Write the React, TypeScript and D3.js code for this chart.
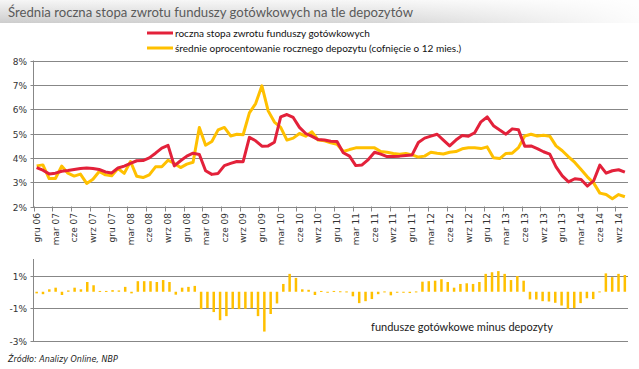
import * as d3 from 'd3';
import { useEffect, useRef } from 'react';

// etykiety osi X (co 3 miesiące, od gru 06)
const tickLabels = [
    'gru 06', 'mar 07', 'cze 07', 'wrz 07', 'gru 07', 'mar 08', 'cze 08', 'wrz 08',
    'gru 08', 'mar 09', 'cze 09', 'wrz 09', 'gru 09', 'mar 10', 'cze 10', 'wrz 10',
    'gru 10', 'mar 11', 'cze 11', 'wrz 11', 'gru 11', 'mar 12', 'cze 12', 'wrz 12',
    'gru 12', 'mar 13', 'cze 13', 'wrz 13', 'gru 13', 'mar 14', 'cze 14', 'wrz 14',
];

// roczna stopa zwrotu funduszy gotówkowych (%), miesięcznie gru 06 - paź 14
const fundReturn = [
    3.60, 3.49, 3.34, 3.37, 3.45, 3.48, 3.52, 3.56, 3.58, 3.56, 3.52, 3.42,
    3.38, 3.58, 3.66, 3.77, 3.88, 3.89, 4.00, 4.19, 4.40, 4.51, 3.67, 3.88,
    4.07, 4.19, 4.14, 3.47, 3.32, 3.36, 3.68, 3.77, 3.85, 3.84, 4.84, 4.70,
    4.48, 4.49, 4.64, 5.68, 5.78, 5.66, 5.25, 5.00, 4.88, 4.75, 4.73, 4.68,
    4.67, 4.21, 4.07, 3.68, 3.71, 3.93, 4.23, 4.15, 4.05, 4.05, 4.07, 4.10,
    4.12, 4.63, 4.81, 4.89, 4.97, 4.73, 4.49, 4.73, 4.92, 4.89, 5.03, 5.48,
    5.68, 5.32, 5.14, 4.97, 5.19, 5.15, 4.48, 4.49, 4.38, 4.25, 4.15, 3.63,
    3.26, 3.01, 3.14, 3.11, 2.84, 3.05, 3.70, 3.37, 3.47, 3.51, 3.41,
];

// średnie oprocentowanie rocznego depozytu (cofnięcie o 12 mies.)
const depositRate = [
    3.67, 3.71, 3.15, 3.15, 3.66, 3.37, 3.25, 3.33, 2.95, 3.12, 3.44, 3.30,
    3.26, 3.56, 3.36, 3.85, 3.24, 3.19, 3.30, 3.63, 3.63, 3.90, 3.77, 3.60,
    3.74, 3.82, 5.25, 4.52, 4.67, 5.15, 5.25, 4.90, 4.97, 4.95, 5.85, 6.23,
    6.96, 5.93, 5.47, 5.25, 4.73, 4.81, 5.00, 4.89, 5.07, 4.73, 4.70, 4.62,
    4.56, 4.26, 4.34, 4.41, 4.41, 4.41, 4.41, 4.26, 4.23, 4.18, 4.15, 4.18,
    4.12, 4.03, 4.07, 4.23, 4.19, 4.16, 4.23, 4.26, 4.37, 4.41, 4.41, 4.38,
    4.45, 4.00, 3.97, 4.18, 4.19, 4.42, 4.90, 4.97, 4.90, 4.93, 4.89, 4.49,
    4.29, 4.04, 3.81, 3.52, 3.22, 2.97, 2.55, 2.49, 2.32, 2.49, 2.40,
];

// fundusze gotówkowe minus depozyty (p.p.)
const spread = [
    -0.10, -0.15, 0.15, 0.25, -0.20, 0.08, 0.25, 0.15, 0.60, 0.40, 0.05, 0.05,
    0.10, 0.08, 0.30, -0.10, 0.65, 0.65, 0.65, 0.60, 0.72, 0.60, -0.18, 0.25,
    0.30, 0.36, -1.07, -1.00, -1.25, -1.75, -1.50, -1.05, -1.07, -1.05, -1.00, -1.50,
    -2.45, -1.37, -0.72, 0.48, 1.10, 0.85, 0.15, 0.12, -0.20, 0.05, -0.04, 0.05,
    0.03, 0.02, -0.28, -0.70, -0.58, -0.45, -0.15, 0.02, -0.22, -0.06, -0.03, -0.08,
    0.02, 0.62, 0.65, 0.68, 0.77, 0.60, 0.25, 0.48, 0.52, 0.48, 0.60, 1.10,
    1.20, 1.27, 1.10, 0.72, 0.97, 0.68, -0.47, -0.48, -0.58, -0.60, -0.68, -0.85,
    -1.05, -1.00, -0.70, -0.40, -0.45, 0.02, 1.13, 0.90, 1.10, 1.03,
];

const topTicks = [2, 3, 4, 5, 6, 7, 8];
const bottomTicks = [1, -1, -3];

export default function App() {
    const ref = useRef<SVGSVGElement | null>(null);

    useEffect(() => {
        const svg = d3.select(ref.current);
        svg.selectAll('*').remove();

        const width = 639;
        const left = 33.5;
        const right = 628;
        const gridColor = '#878787';
        const red = '#e3213a';
        const yellow = '#ffc000';
        const calibri = 'Lato, "Open Sans", sans-serif';
        const tahoma = '"DejaVu Sans", Verdana, sans-serif';

        // nagłówek z gradientem
        const defs = svg.append('defs');
        const gv = defs.append('linearGradient').attr('id', 'hdrV').attr('x1', 0).attr('y1', 0).attr('x2', 0).attr('y2', 1);
        gv.append('stop').attr('offset', '0%').attr('stop-color', '#f6f6f6');
        gv.append('stop').attr('offset', '100%').attr('stop-color', '#cdcdcd');
        const gh = defs.append('linearGradient').attr('id', 'hdrH').attr('x1', 0).attr('y1', 0).attr('x2', 1).attr('y2', 0);
        gh.append('stop').attr('offset', '0%').attr('stop-color', '#fff').attr('stop-opacity', 0);
        gh.append('stop').attr('offset', '60%').attr('stop-color', '#fff').attr('stop-opacity', 0.2);
        gh.append('stop').attr('offset', '100%').attr('stop-color', '#fff').attr('stop-opacity', 0.95);

        svg.append('rect').attr('width', width).attr('height', 369).attr('fill', '#fff');
        svg.append('rect').attr('width', width).attr('height', 23).attr('fill', 'url(#hdrV)');
        svg.append('rect').attr('width', width).attr('height', 23).attr('fill', 'url(#hdrH)');
        svg.append('text')
            .attr('x', 8).attr('y', 17)
            .attr('font-family', calibri).attr('font-size', 14)
            .attr('textLength', 405)
            .attr('lengthAdjust', 'spacingAndGlyphs')
            .attr('fill', '#5a5a5a')
            .text('Średnia roczna stopa zwrotu funduszy gotówkowych na tle depozytów');

        // legenda
        const legend = [
            { label: 'roczna stopa zwrotu funduszy gotówkowych', color: red, y: 33 },
            { label: 'średnie oprocentowanie rocznego depozytu (cofnięcie o 12 mies.)', color: yellow, y: 48 },
        ];
        legend.forEach(l => {
            svg.append('line')
                .attr('x1', 147).attr('x2', 173).attr('y1', l.y).attr('y2', l.y)
                .attr('stroke', l.color).attr('stroke-width', 3);
            svg.append('text')
                .attr('x', 175).attr('y', l.y).attr('dy', '0.35em')
                .attr('font-family', calibri).attr('font-size', 10)
                .attr('fill', '#111')
                .text(l.label);
        });

        // --- wykres górny ---
        const x = d3.scaleBand<number>()
            .domain(d3.range(fundReturn.length))
            .range([left, right]);
        const bw = x.bandwidth();
        const y = d3.scaleLinear().domain([2, 8]).range([206.5, 60.5]);

        const gTop = svg.append('g');
        topTicks.forEach(t => {
            const yy = Math.round(y(t)) + 0.5;
            gTop.append('line')
                .attr('x1', left - 3).attr('x2', right).attr('y1', yy).attr('y2', yy)
                .attr('stroke', gridColor).attr('stroke-width', 1);
            gTop.append('text')
                .attr('x', 27).attr('y', yy).attr('dy', '0.35em')
                .attr('text-anchor', 'end')
                .attr('font-family', tahoma).attr('font-size', 9)
                .attr('fill', '#333')
                .text(`${t}%`);
        });
        gTop.append('line')
            .attr('x1', left).attr('x2', left).attr('y1', y(8)).attr('y2', y(2) + 0.5)
            .attr('stroke', gridColor);

        tickLabels.forEach((lab, k) => {
            const i = k * 3;
            const bx = Math.round(x(i)!) + 0.5;
            gTop.append('line')
                .attr('x1', bx).attr('x2', bx).attr('y1', y(2)).attr('y2', y(2) + 5)
                .attr('stroke', gridColor);
            const cx = x(i)! + bw / 2;
            gTop.append('text')
                .attr('transform', `translate(${cx},${213}) rotate(-90)`)
                .attr('dy', '0.35em')
                .attr('text-anchor', 'end')
                .attr('font-family', tahoma).attr('font-size', 9)
                .attr('fill', '#333')
                .text(lab);
        });

        const line = d3.line<number>()
            .x((_, i) => x(i)! + bw / 2)
            .y(d => y(d));

        gTop.append('path')
            .datum(depositRate)
            .attr('fill', 'none')
            .attr('stroke', yellow)
            .attr('stroke-width', 3)
            .attr('stroke-linejoin', 'round')
            .attr('d', line);

        gTop.append('path')
            .datum(fundReturn)
            .attr('fill', 'none')
            .attr('stroke', red)
            .attr('stroke-width', 3)
            .attr('stroke-linejoin', 'round')
            .attr('d', line);

        // --- wykres dolny ---
        const xb = d3.scaleBand<number>()
            .domain(d3.range(spread.length))
            .range([left, right]);
        const yb = d3.scaleLinear().domain([-3, 1]).range([340.5, 275.5]);
        const gBot = svg.append('g');

        bottomTicks.forEach(t => {
            const yy = Math.round(yb(t)) + 0.5;
            gBot.append('line')
                .attr('x1', left - 3).attr('x2', right).attr('y1', yy).attr('y2', yy)
                .attr('stroke', gridColor);
            gBot.append('text')
                .attr('x', 27).attr('y', yy).attr('dy', '0.35em')
                .attr('text-anchor', 'end')
                .attr('font-family', tahoma).attr('font-size', 9)
                .attr('fill', '#333')
                .text(`${t}%`);
        });
        gBot.append('line')
            .attr('x1', left).attr('x2', left).attr('y1', 259).attr('y2', yb(-3) + 0.5)
            .attr('stroke', gridColor);

        gBot.selectAll('rect.bar')
            .data(spread)
            .join('rect')
            .attr('class', 'bar')
            .attr('x', (_, i) => xb(i)! + xb.bandwidth() / 2 - 1.25)
            .attr('width', 2.5)
            .attr('y', d => yb(Math.max(0, d)))
            .attr('height', d => Math.max(1, Math.abs(yb(d) - yb(0))))
            .attr('fill', yellow);

        gBot.append('text')
            .attr('x', 462).attr('y', 327).attr('dy', '0.35em')
            .attr('text-anchor', 'middle')
            .attr('font-family', calibri).attr('font-size', 11)
            .attr('fill', '#1a1a1a')
            .text('fundusze gotówkowe minus depozyty');

        svg.append('text')
            .attr('x', 8).attr('y', 362)
            .attr('font-family', tahoma).attr('font-size', 8)
            .attr('font-style', 'italic')
            .attr('fill', '#222')
            .text('Źródło: Analizy Online, NBP');
    }, []);

    return (
        <svg
            ref={ref}
            width={639}
            height={369}
            style={{ position: 'absolute', left: 0, top: 0 }}
        />
    );
}
